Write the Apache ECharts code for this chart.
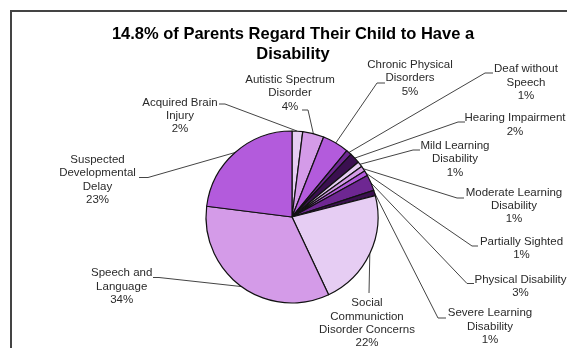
<!DOCTYPE html>
<html>
<head>
<meta charset="utf-8">
<script src="https://cdn.jsdelivr.net/npm/echarts@6/dist/echarts.min.js"></script>
<style>
  html, body { margin: 0; padding: 0; background: #fff; }
  #chart { width: 567px; height: 348px; }
</style>
</head>
<body>
<div id="chart"></div>
<script>
// Reported disability categories, clockwise from 12 o'clock
const categories = [
  'Acquired Brain Injury',
  'Autistic Spectrum Disorder',
  'Chronic Physical Disorders',
  'Deaf without Speech',
  'Hearing Impairment',
  'Mild Learning Disability',
  'Moderate Learning Disability',
  'Partially Sighted',
  'Physical Disability',
  'Severe Learning Disability',
  'Social Communiction Disorder Concerns',
  'Speech and Language',
  'Suspected Developmental Delay'
];

// Wrapped label text for each category
const labelLines = [
  'Acquired Brain\nInjury',
  'Autistic Spectrum\nDisorder',
  'Chronic Physical\nDisorders',
  'Deaf without\nSpeech',
  'Hearing Impairment',
  'Mild Learning\nDisability',
  'Moderate Learning\nDisability',
  'Partially Sighted',
  'Physical Disability',
  'Severe Learning\nDisability',
  'Social\nCommuniction\nDisorder Concerns',
  'Speech and\nLanguage',
  'Suspected\nDevelopmental\nDelay'
];

// Share of parents (%)
const shares = [2, 4, 5, 1, 2, 1, 1, 1, 3, 1, 22, 34, 23];

// Five-step purple palette, repeated round the pie
const palette = ['#e6cdf3', '#d49be8', '#b35bdc', '#6e2792', '#3b1050'];
const sliceColors = categories.map((_, i) => palette[i % palette.length]);

// Label placement: [centre x, first-line centre y]
const labelAnchors = [
  [180, 102.7], [290, 80], [410, 65], [526, 69.3], [515, 118.3],
  [455, 146], [514, 192.7], [521.5, 241.7], [520.5, 280], [490, 313.3],
  [367, 303.3], [121.7, 273.3], [97.5, 160]
];
// Leader lines: elbow point, then short tick towards the text
const leaderElbows = [
  [225, 104], [308, 110], [377, 83], [485, 73], [458, 122],
  [413, 150], [457, 198], [472, 246], [467, 283.5], [438, 318],
  [369, 293], [159, 277.5], [148, 177.5]
];
const leaderTicks = [
  [219, 104], [302, 110], [385, 83], [493, 73], [465, 122],
  [420, 150], [464, 198], [478, 246], [474, 283.5], [446, 318],
  [369, 293], [153, 277.5], [139, 177.5]
];

const PIE_CX = 292, PIE_CY = 217, PIE_R = 86, LINE_H = 13.3;
const total = shares.reduce((a, b) => a + b, 0);

function edgePoint(i) {
  let before = 0;
  for (let k = 0; k < i; k++) before += shares[k];
  const mid = (before + shares[i] / 2) / total * 2 * Math.PI;
  return [PIE_CX + PIE_R * Math.sin(mid), PIE_CY - PIE_R * Math.cos(mid)];
}

const FONT = '"Liberation Sans", Arial, sans-serif';
const chart = echarts.init(document.getElementById('chart'), null, { renderer: 'canvas' });

chart.setOption({
  animation: false,
  backgroundColor: '#fff',
  title: {
    text: '14.8% of Parents Regard Their Child to Have a\nDisability',
    left: 293,
    top: 24,
    padding: 0,
    textAlign: 'center',
    textStyle: {
      fontFamily: FONT,
      fontSize: 16.5,
      fontWeight: 'bold',
      color: '#000',
      lineHeight: 20
    }
  },
  graphic: [{
    type: 'rect',
    silent: true,
    shape: { x: 11, y: 11, width: 800, height: 800 },
    style: { fill: 'none', stroke: '#444', lineWidth: 2 }
  }],
  series: [{
    type: 'pie',
    center: [PIE_CX, PIE_CY],
    radius: PIE_R,
    startAngle: 90,
    clockwise: true,
    avoidLabelOverlap: false,
    data: categories.map((name, i) => ({
      name: name,
      value: shares[i],
      itemStyle: { color: sliceColors[i] }
    })),
    itemStyle: { borderColor: '#111', borderWidth: 1.2 },
    label: {
      show: true,
      position: 'outside',
      formatter: p => labelLines[p.dataIndex] + '\n' + p.value + '%',
      fontFamily: FONT,
      fontSize: 11.5,
      lineHeight: LINE_H,
      color: '#2a2a2a',
      align: 'center'
    },
    labelLine: {
      show: true,
      length: 5,
      length2: 5,
      lineStyle: { color: '#444', width: 1 }
    },
    labelLayout: function (params) {
      const i = params.dataIndex;
      const a = labelAnchors[i];
      const pts = params.labelLinePoints;
      const edge = (pts && pts[0]) ? pts[0] : edgePoint(i);
      return {
        x: a[0],
        y: a[1] - LINE_H / 2,
        align: 'center',
        verticalAlign: 'top',
        labelLinePoints: [edge, leaderElbows[i], leaderTicks[i]]
      };
    }
  }]
});
</script>
</body>
</html>
